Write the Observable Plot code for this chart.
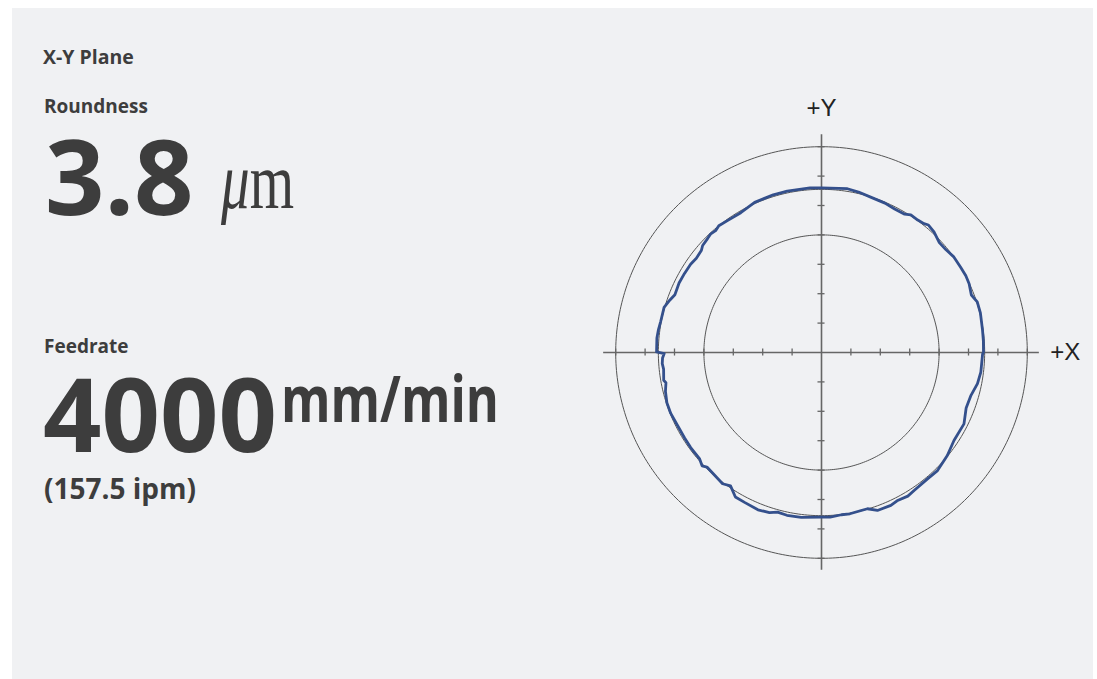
<!DOCTYPE html>
<html><head><meta charset="utf-8">
<script src="https://cdn.jsdelivr.net/npm/d3@7"></script>
<script src="https://cdn.jsdelivr.net/npm/@observablehq/plot@0.6"></script>
<style>
html,body{margin:0;padding:0;background:#fff;width:1097px;height:679px;overflow:hidden}
#bg{position:absolute;left:0;top:0}
#chart{position:absolute;left:560.7px;top:92px}
</style></head><body>
<svg id="bg" width="1097" height="679">
  <rect x="12" y="8" width="1081" height="671" fill="#f0f1f3"/>
  <g fill="#3d3d3d" font-family="'Open Sans', 'Noto Sans', sans-serif" font-weight="700">
    <text x="43" y="64" font-size="19.5">X-Y Plane</text>
    <text x="44" y="113" font-size="19">Roundness</text>
    <text x="45" y="215" font-size="104">3.8</text>
    <text x="221" y="208" font-size="80" font-weight="400" font-family="'Liberation Serif', 'DejaVu Serif', serif" textLength="73" lengthAdjust="spacingAndGlyphs"><tspan font-style="italic">μ</tspan>m</text>
    <text x="44" y="353" font-size="19">Feedrate</text>
    <text x="43" y="452" font-size="103" textLength="234" lengthAdjust="spacingAndGlyphs">4000</text>
    <text x="281" y="421.5" font-size="64" textLength="218" lengthAdjust="spacingAndGlyphs">mm/min</text>
    <text x="44" y="498.5" font-size="28">(157.5 ipm)</text>
  </g>
</svg>
<div id="chart"></div>
<script>
// Measured profile: angle (degrees, counter-clockwise from +X) and radius (axis divisions)
const angles = [0, 4, 8, 14, 18, 21, 25, 28, 31.5, 36, 39.5, 43, 47, 50, 51.5, 54, 57, 59, 63, 67, 72, 77, 81, 90, 94, 102, 107, 114, 120, 125.5, 129, 131, 133, 135, 138, 139.7, 143, 146, 150, 154, 158.5, 161, 164, 169, 172, 175, 179.8, 180.4, 182, 184, 186, 190, 191, 194, 198, 202, 207, 212, 216, 221, 223.5, 225, 233, 235.7, 239.2, 243, 248, 252, 254.6, 258, 263, 270, 273, 277, 280, 286.4, 289.5, 294.4, 297, 301, 304, 310, 314.5, 320.7, 326.4, 333.4, 339, 344, 348.7, 353, 359.5];
const radii = [5.51, 5.52, 5.53, 5.57, 5.57, 5.46, 5.54, 5.56, 5.55, 5.55, 5.49, 5.48, 5.61, 5.66, 5.60, 5.57, 5.58, 5.49, 5.48, 5.52, 5.54, 5.60, 5.64, 5.60, 5.61, 5.61, 5.61, 5.59, 5.49, 5.51, 5.55, 5.49, 5.52, 5.48, 5.44, 5.36, 5.33, 5.37, 5.38, 5.39, 5.36, 5.46, 5.57, 5.57, 5.60, 5.62, 5.61, 5.35, 5.41, 5.43, 5.40, 5.45, 5.39, 5.47, 5.53, 5.53, 5.49, 5.49, 5.50, 5.50, 5.60, 5.51, 5.59, 5.49, 5.72, 5.73, 5.77, 5.73, 5.63, 5.66, 5.65, 5.60, 5.61, 5.56, 5.57, 5.54, 5.70, 5.71, 5.66, 5.70, 5.65, 5.61, 5.63, 5.53, 5.41, 5.42, 5.27, 5.29, 5.41, 5.46, 5.48];
const ringRadii = [4, 5.55, 7];
const tickValues = [-7, -6, -5, -4, -3, -2, -1, 1, 2, 3, 4, 5, 6, 7];
const axisLabels = ["+X", "+Y"];

const R = 260 / 29.4;
const axisExtent = 7.41;
const tickHalf = 0.12;
const rad = Math.PI / 180;

const profile = angles.map((a, i) => ({x: radii[i] * Math.cos(a * rad), y: radii[i] * Math.sin(a * rad)}));
profile.push(profile[0]);
const ringData = ringRadii.flatMap(r => d3.range(0, 361, 1).map(a => ({r, x: r * Math.cos(a * rad), y: r * Math.sin(a * rad)})));

const chart = Plot.plot({
  width: 520, height: 520, margin: 0,
  x: {domain: [-R, R], axis: null},
  y: {domain: [-R, R], axis: null},
  style: {background: "transparent", overflow: "visible"},
  marks: [
    Plot.line(ringData, {x: "x", y: "y", z: "r", stroke: "#555", strokeWidth: 1}),
    Plot.ruleX([0], {y1: -axisExtent, y2: axisExtent, stroke: "#666", strokeWidth: 1.6}),
    Plot.ruleY([0], {x1: -axisExtent, x2: axisExtent, stroke: "#666", strokeWidth: 1.6}),
    Plot.ruleX(tickValues, {x: d => d, y1: -tickHalf, y2: tickHalf, stroke: "#666", strokeWidth: 1.3}),
    Plot.ruleY(tickValues, {y: d => d, x1: -tickHalf, x2: tickHalf, stroke: "#666", strokeWidth: 1.3}),
    Plot.line(profile, {x: "x", y: "y", stroke: "#34508c", strokeWidth: 2.8, strokeLinejoin: "round"}),
    Plot.text([axisLabels[1]], {x: 0, y: 8.03, text: d => d, textAnchor: "middle", lineAnchor: "bottom", fontSize: 24, fontFamily: "'Liberation Sans', Arial, sans-serif", fill: "#222"}),
    Plot.text([axisLabels[0]], {x: 7.78, y: 0, text: d => d, textAnchor: "start", lineAnchor: "middle", fontSize: 24, fontFamily: "'Liberation Sans', Arial, sans-serif", fill: "#222"})
  ]
});
document.getElementById("chart").appendChild(chart);
</script>
</body></html>
